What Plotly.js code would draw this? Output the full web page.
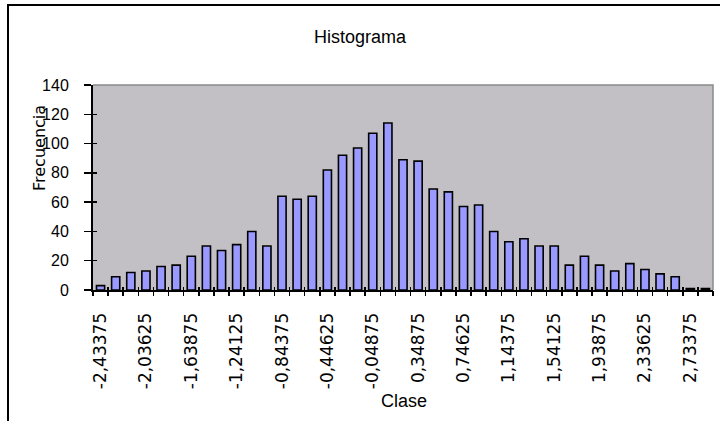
<!DOCTYPE html>
<html>
<head>
<meta charset="utf-8">
<script src="https://cdn.plot.ly/plotly-3.0.1.min.js"></script>
<style>html,body{margin:0;padding:0;background:#fff;}#chart{width:720px;height:421px;}</style>
</head>
<body>
<div id="chart"></div>
<script>
// Class (bin) labels as shown by the spreadsheet histogram
const classes = [
  "-2,43375","-2,30125","-2,16875","-2,03625","-1,90375","-1,77125","-1,63875",
  "-1,50625","-1,37375","-1,24125","-1,10875","-0,97625","-0,84375","-0,71125",
  "-0,57875","-0,44625","-0,31375","-0,18125","-0,04875","0,08375","0,21625",
  "0,34875","0,48125","0,61375","0,74625","0,87875","1,01125","1,14375",
  "1,27625","1,40875","1,54125","1,67375","1,80625","1,93875","2,07125",
  "2,20375","2,33625","2,46875","2,60125","2,73375","y mayor..."
];
// Frequencies
const frecuencia = [
  3, 9, 12, 13, 16, 17, 23,
  30, 27, 31, 40, 30, 64, 62,
  64, 82, 92, 97, 107, 114, 89,
  88, 69, 67, 57, 58, 40, 33,
  35, 30, 30, 17, 23, 17, 13,
  18, 14, 11, 9, 1, 1
];
const yTicks = [0, 20, 40, 60, 80, 100, 120, 140];
const shownLabels = classes.filter((c, i) => i % 3 === 0);

const n = classes.length;
const boundaries = [];
for (let i = 0; i <= n; i++) boundaries.push(i - 0.5);

const L = 93, R = 7, T = 85, B = 131, W = 720, H = 421;
const pw = W - L - R, ph = H - T - B;
const px = x => (x - L) / pw;
const py = y => (H - B - y) / ph;

const traces = [
  {
    type: 'bar', x: classes, y: frecuencia, xaxis: 'x', yaxis: 'y',
    marker: {color: '#9999ff', line: {color: '#000000', width: 1.6}},
    hoverinfo: 'x+y', showlegend: false
  },
  {type: 'scatter', x: [], y: [], xaxis: 'x2', yaxis: 'y', showlegend: false, hoverinfo: 'skip'},
  {type: 'scatter', x: [], y: [], xaxis: 'x3', yaxis: 'y', showlegend: false, hoverinfo: 'skip'},
  {type: 'scatter', x: [], y: [], xaxis: 'x', yaxis: 'y2', showlegend: false, hoverinfo: 'skip'}
];

const tickFontX = {family: 'DejaVu Sans', size: 17, color: '#000'};
const layout = {
  width: W, height: H,
  margin: {l: L, r: R, t: T, b: B, pad: 0},
  paper_bgcolor: '#ffffff',
  plot_bgcolor: '#c2c0c4',
  bargap: 0.46,
  showlegend: false,
  title: {
    text: 'Histograma',
    font: {family: 'Liberation Sans', size: 18, color: '#000'},
    x: 0.5, xref: 'container', xanchor: 'center',
    y: 1 - 37 / H, yref: 'container', yanchor: 'middle'
  },
  xaxis: {
    type: 'category', categoryorder: 'array', categoryarray: classes,
    range: [-0.5, n - 0.5],
    tickmode: 'array', tickvals: shownLabels, ticktext: shownLabels,
    ticks: '', tickangle: -90, ticklabelstandoff: 14,
    tickfont: tickFontX,
    showline: true, linecolor: '#000', linewidth: 2,
    showgrid: false, zeroline: false, fixedrange: true
  },
  xaxis2: {
    overlaying: 'x', anchor: 'y', type: 'linear', range: [-0.5, n - 0.5],
    tickmode: 'array', tickvals: boundaries, ticks: 'outside', ticklen: 5,
    tickwidth: 1.5, tickcolor: '#000', showticklabels: false,
    showline: false, showgrid: false, zeroline: false
  },
  xaxis3: {
    overlaying: 'x', anchor: 'y', type: 'linear', range: [-0.5, n - 0.5],
    tickmode: 'array', tickvals: boundaries, ticks: 'inside', ticklen: 3,
    tickwidth: 1.5, tickcolor: '#000', showticklabels: false,
    showline: false, showgrid: false, zeroline: false
  },
  yaxis: {
    range: [0, 140], tickmode: 'array', tickvals: yTicks,
    ticks: 'outside', ticklen: 7, tickwidth: 1.5, tickcolor: '#000',
    ticklabelstandoff: 12,
    tickfont: {family: 'Liberation Sans', size: 16, color: '#000'},
    showline: true, linecolor: '#000', linewidth: 2,
    showgrid: false, zeroline: false, fixedrange: true
  },
  yaxis2: {
    overlaying: 'y', anchor: 'x', side: 'left', range: [0, 140],
    tickmode: 'array', tickvals: yTicks, ticks: 'inside', ticklen: 4,
    tickwidth: 1.5, tickcolor: '#000', showticklabels: false,
    showline: false, showgrid: false, zeroline: false
  },
  shapes: [
    {type: 'path', xref: 'paper', yref: 'paper', path: 'M0,1 L1,1 L1,0',
     line: {color: '#8a8a8a', width: 1.5}, layer: 'above'},
    {type: 'rect', xref: 'paper', yref: 'paper',
     x0: px(8), x1: px(760), y0: py(460), y1: py(5),
     line: {color: '#000', width: 2}, fillcolor: 'rgba(0,0,0,0)', layer: 'above'}
  ],
  annotations: [
    {text: 'Frecuencia', xref: 'paper', yref: 'paper', x: px(39), y: py(148),
     xanchor: 'center', yanchor: 'middle', textangle: -90, showarrow: false,
     font: {family: 'DejaVu Sans', size: 16, color: '#000'}},
    {text: 'Clase', xref: 'paper', yref: 'paper', x: px(404), y: py(401),
     xanchor: 'center', yanchor: 'middle', showarrow: false,
     font: {family: 'Liberation Sans', size: 18, color: '#000'}}
  ]
};

Plotly.newPlot('chart', traces, layout, {staticPlot: true, displayModeBar: false});
</script>
</body>
</html>
